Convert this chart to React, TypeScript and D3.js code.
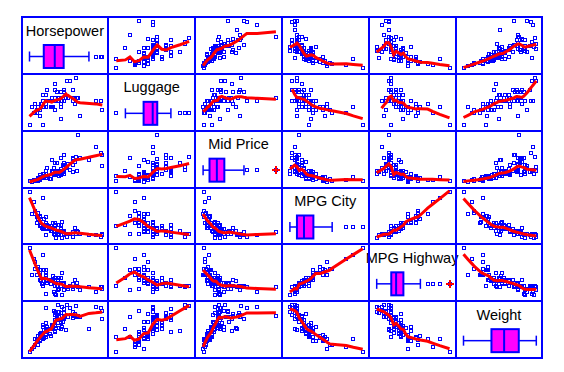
import React, { useEffect, useRef } from 'react';
import * as d3 from 'd3';

// Cars93 variables, one entry per car (null = missing)
const varNames = ['Horsepower', 'Luggage', 'Mid Price', 'MPG City', 'MPG Highway', 'Weight'];

const horsepower = [
  140, 200, 172, 172, 208, 110, 170, 180, 170, 200,
  295, 110, 110, 160, 110, 170, 165, 170, 300, 153,
  141, 147, 92, 93, 100, 142, 100, 300, 92, 214,
  63, 127, 96, 105, 115, 145, 140, 190, 55, 90,
  160, 102, 140, 81, 124, 92, 128, 278, 185, 225,
  160, 210, 82, 103, 164, 155, 255, 130, 217, 100,
  140, 92, 202, 110, 150, 151, 160, 155, 110, 170,
  170, 92, 74, 110, 160, 200, 170, 140, 85, 73,
  90, 130, 70, 82, 135, 130, 138, 81, 109, 134,
  178, 114, 168,
];

const luggage = [
  11, 15, 14, 17, 13, 16, 17, 21, 14, 18,
  14, 13, 14, 13, 16, null, null, 18, null, 15,
  14, 17, 11, 13, 14, null, 16, 11, 11, 15,
  12, 12, 13, 12, 18, null, 18, 21, 6, 9,
  8, 12, 14, 11, 14, 11, 14, 14, 15, 9,
  17, 22, 11, 12, 14, null, null, 12, 15, 6,
  15, 11, 14, 12, 14, null, 15, 14, 16, null,
  18, 11, 13, 13, 12, 14, 17, 20, 12, 10,
  11, 14, 10, 11, 12, 15, null, 10, null, 14,
  15, 14, 15,
];

const midPrice = [
  15.9, 33.9, 29.1, 37.7, 30.0, 15.7, 20.8, 23.7, 26.3, 34.7,
  40.1, 13.4, 11.4, 15.1, 15.9, 16.3, 16.6, 18.8, 38.0, 18.4,
  15.8, 29.5, 9.2, 11.3, 13.3, 19.0, 15.6, 25.8, 12.2, 19.3,
  7.4, 10.1, 11.3, 15.9, 14.0, 19.9, 20.2, 20.9, 8.4, 12.5,
  19.8, 12.1, 17.5, 8.0, 10.0, 10.0, 13.9, 47.9, 28.0, 35.2,
  34.3, 36.1, 8.3, 11.6, 16.5, 19.1, 32.5, 31.9, 61.9, 14.1,
  14.9, 10.3, 26.1, 11.8, 15.7, 19.1, 21.5, 13.5, 16.3, 19.5,
  20.7, 14.4, 9.0, 11.1, 17.7, 18.5, 24.4, 28.7, 11.1, 8.4,
  10.9, 19.5, 8.6, 9.8, 18.4, 18.2, 22.7, 9.1, 19.7, 20.0,
  23.3, 22.7, 26.7,
];

const mpgCity = [
  25, 18, 20, 19, 22, 22, 19, 16, 19, 16,
  16, 25, 25, 19, 21, 18, 15, 17, 17, 20,
  23, 20, 29, 23, 22, 17, 21, 18, 29, 20,
  31, 23, 22, 22, 24, 15, 21, 18, 46, 30,
  24, 42, 24, 29, 22, 26, 20, 17, 18, 18,
  17, 18, 29, 28, 26, 18, 17, 20, 19, 23,
  19, 29, 18, 29, 24, 17, 21, 24, 23, 18,
  19, 23, 31, 23, 19, 19, 19, 20, 28, 33,
  25, 23, 39, 32, 25, 22, 18, 25, 17, 21,
  18, 21, 20,
];

const mpgHighway = [
  31, 25, 26, 26, 30, 31, 28, 25, 27, 25,
  25, 36, 34, 28, 29, 23, 20, 26, 25, 28,
  28, 26, 33, 29, 27, 21, 27, 24, 33, 28,
  33, 30, 27, 29, 30, 20, 30, 26, 50, 36,
  31, 46, 31, 33, 29, 34, 27, 22, 24, 23,
  26, 26, 37, 36, 34, 24, 25, 29, 25, 26,
  26, 33, 24, 33, 30, 23, 26, 31, 31, 23,
  28, 30, 41, 31, 28, 27, 28, 26, 38, 37,
  30, 30, 43, 37, 32, 29, 22, 33, 21, 30,
  25, 28, 28,
];

const weight = [
  2705, 3560, 3375, 3405, 3640, 2880, 3470, 4105, 3495, 3620,
  3935, 2490, 2785, 3240, 3195, 3715, 4025, 3910, 3380, 3515,
  3085, 3570, 2270, 2670, 2970, 3705, 3080, 3805, 2295, 3490,
  1845, 2530, 2690, 2850, 2710, 3735, 3325, 3950, 1695, 2475,
  2865, 2350, 3040, 2345, 2620, 2285, 2885, 4000, 3510, 3515,
  3695, 4055, 2325, 2440, 2970, 3735, 2895, 2920, 3525, 2450,
  3610, 2295, 3730, 2545, 3200, 4100, 3200, 2910, 2890, 3715,
  3470, 2640, 2350, 2575, 3240, 3450, 3495, 2775, 2495, 2045,
  2490, 3085, 1965, 2055, 2950, 3030, 3785, 2240, 3960, 2985,
  2810, 2985, 3245,
];

const columns: (number | null)[][] = [horsepower, luggage, midPrice, mpgCity, mpgHighway, weight];

const BLUE = '#0000ff';
const RED = '#ff0000';
const MAGENTA = '#ff00ff';

// robust local linear smoother (lowess) with tricube weights
function lowess(xs: number[], ys: number[], f: number, iters: number): [number, number][] {
  const n = xs.length;
  const r = Math.max(3, Math.floor(f * n));
  let robust = new Array(n).fill(1);
  const fitAt = (x0: number) => {
    const dists = xs.map((v) => Math.abs(v - x0)).sort((a, b) => a - b);
    const h = Math.max(dists[r - 1], 1e-9) * 1.000001;
    let sw = 0, sx = 0, sy = 0, sxx = 0, sxy = 0;
    for (let i = 0; i < n; i++) {
      const u = Math.abs(xs[i] - x0) / h;
      if (u >= 1) continue;
      const w = Math.pow(1 - u * u * u, 3) * robust[i];
      sw += w; sx += w * xs[i]; sy += w * ys[i];
      sxx += w * xs[i] * xs[i]; sxy += w * xs[i] * ys[i];
    }
    if (sw <= 0) return NaN;
    const mx = sx / sw, my = sy / sw;
    const vx = sxx / sw - mx * mx;
    const b = vx > 1e-12 ? (sxy / sw - mx * my) / vx : 0;
    return my + b * (x0 - mx);
  };
  for (let it = 0; it < iters; it++) {
    const res = xs.map((x, i) => Math.abs(ys[i] - fitAt(x)));
    const s = 6 * (d3.median(res) || 1e-9);
    robust = res.map((e) => {
      const u = e / s;
      return u < 1 ? (1 - u * u) * (1 - u * u) : 0;
    });
  }
  const grid = Array.from(new Set(xs)).sort((a, b) => a - b);
  return grid.map((x0) => [x0, fitAt(x0)] as [number, number]).filter((d) => !isNaN(d[1]));
}

const App = () => {
  const svgRef = useRef<SVGSVGElement | null>(null);

  useEffect(() => {
    drawChart();
  }, []);

  const drawChart = () => {
    const svg = d3.select(svgRef.current);
    svg.selectAll('*').remove();

    const left = 21.5, top = 17, right = 542.3, bottom = 358;
    const k = varNames.length;
    const cw = (right - left) / k;
    const ch = (bottom - top) / k;

    const xs = columns.map((col, j) => {
      const ext = d3.extent(col.filter((v) => v != null) as number[]) as [number, number];
      return d3.scaleLinear().domain(ext).range([left + j * cw + 8, left + (j + 1) * cw - 6]);
    });
    const ys = columns.map((col, i) => {
      const ext = d3.extent(col.filter((v) => v != null) as number[]) as [number, number];
      return d3.scaleLinear().domain(ext).range([top + (i + 1) * ch - 6, top + i * ch + 4]);
    });

    const g = svg.append('g');

    const drawSquare = (sel: any, px: number, py: number) => {
      sel.append('rect')
        .attr('x', Math.round(px) - 1.5)
        .attr('y', Math.round(py) - 1.5)
        .attr('width', 3)
        .attr('height', 3)
        .attr('fill', 'none')
        .attr('stroke', BLUE)
        .attr('stroke-width', 1);
    };

    for (let i = 0; i < k; i++) {
      for (let j = 0; j < k; j++) {
        const cell = g.append('g');
        if (i === j) {
          // diagonal: name and box plot
          const cx = left + (j + 0.5) * cw;
          const cy0 = top + i * ch;
          cell.append('text')
            .attr('x', cx)
            .attr('y', cy0 + 18.5)
            .attr('text-anchor', 'middle')
            .attr('font-family', '"Liberation Sans", Arial, sans-serif')
            .attr('font-size', 14.5)
            .attr('fill', '#000')
            .text(varNames[i]);

          const vals = (columns[i].filter((v) => v != null) as number[]).sort((a, b) => a - b);
          const q1 = d3.quantile(vals, 0.25)!;
          const med = d3.quantile(vals, 0.5)!;
          const q3 = d3.quantile(vals, 0.75)!;
          const iqr = q3 - q1;
          const lo = q1 - 1.5 * iqr, hi = q3 + 1.5 * iqr;
          const wLo = d3.min(vals.filter((v) => v >= lo))!;
          const wHi = d3.max(vals.filter((v) => v <= hi))!;
          const x = xs[j];
          const by0 = cy0 + 28, by1 = cy0 + 51, bm = (by0 + by1) / 2;

          cell.append('line').attr('x1', x(wLo)).attr('x2', x(q1)).attr('y1', bm).attr('y2', bm)
            .attr('stroke', BLUE).attr('stroke-width', 1.5);
          cell.append('line').attr('x1', x(q3)).attr('x2', x(wHi)).attr('y1', bm).attr('y2', bm)
            .attr('stroke', BLUE).attr('stroke-width', 1.5);
          [wLo, wHi].forEach((v) => {
            cell.append('line').attr('x1', x(v)).attr('x2', x(v)).attr('y1', bm - 5).attr('y2', bm + 5)
              .attr('stroke', BLUE).attr('stroke-width', 1.5);
          });
          cell.append('rect')
            .attr('x', x(q1)).attr('y', by0)
            .attr('width', x(q3) - x(q1)).attr('height', by1 - by0)
            .attr('fill', MAGENTA).attr('stroke', BLUE).attr('stroke-width', 2);
          cell.append('line').attr('x1', x(med)).attr('x2', x(med)).attr('y1', by0).attr('y2', by1)
            .attr('stroke', BLUE).attr('stroke-width', 2);

          const outs = Array.from(new Set(vals.filter((v) => v < lo || v > hi)));
          outs.forEach((v) => {
            const far = v < q1 - 3 * iqr || v > q3 + 3 * iqr;
            drawSquare(cell, x(v), bm);
            if (far) {
              const px = Math.round(x(v)), py = Math.round(bm);
              cell.append('line').attr('x1', px - 4).attr('x2', px + 4).attr('y1', py).attr('y2', py)
                .attr('stroke', RED).attr('stroke-width', 2);
              cell.append('line').attr('x1', px).attr('x2', px).attr('y1', py - 4).attr('y2', py + 4)
                .attr('stroke', RED).attr('stroke-width', 2);
            }
          });
        } else {
          // scatter of row variable (y) against column variable (x)
          const px: number[] = [], py: number[] = [];
          columns[j].forEach((v, n) => {
            const w = columns[i][n];
            if (v != null && w != null) { px.push(v); py.push(w); }
          });
          px.forEach((v, n) => drawSquare(cell, xs[j](v), ys[i](py[n])));

          const fit = lowess(px, py, 0.3, 2);
          const line = d3.line<[number, number]>()
            .x((d) => xs[j](d[0]))
            .y((d) => ys[i](d[1]));
          cell.append('path')
            .attr('d', line(fit))
            .attr('fill', 'none')
            .attr('stroke', RED)
            .attr('stroke-width', 3);
        }
      }
    }

    // cell borders
    for (let n = 0; n <= k; n++) {
      const vx = Math.round(left + n * cw);
      const vy = Math.round(top + n * ch);
      g.append('line').attr('x1', vx).attr('x2', vx).attr('y1', Math.round(top) - 1).attr('y2', Math.round(bottom) + 1)
        .attr('stroke', BLUE).attr('stroke-width', 2);
      g.append('line').attr('x1', Math.round(left) - 1).attr('x2', Math.round(right) + 1).attr('y1', vy).attr('y2', vy)
        .attr('stroke', BLUE).attr('stroke-width', 2);
    }
  };

  return (
    <svg ref={svgRef} width={564} height={372}
      style={{ position: 'absolute', left: 0, top: 0, background: '#fff' }} />
  );
};

export default App;
